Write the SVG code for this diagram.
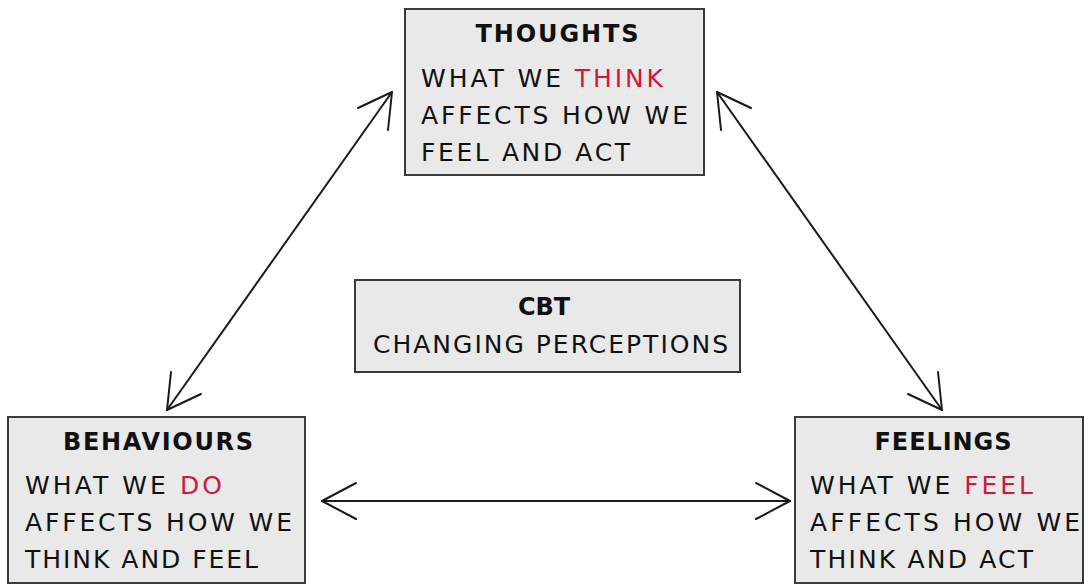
<svg xmlns="http://www.w3.org/2000/svg" width="1085" height="585" viewBox="0 0 1085 585">
<style>
.box{fill:#e9e9e9;stroke:#3a3a3a;stroke-width:2}
.t{font-family:"DejaVu Sans","Liberation Sans",Arial,sans-serif;font-size:24px;font-weight:bold;fill:#111;text-anchor:middle}
.b{font-family:"DejaVu Sans","Liberation Sans",Arial,sans-serif;font-size:25px;fill:#111}
.r{fill:#d4163c}
.c{fill:none;stroke:#1a1a1a;stroke-width:2;stroke-linecap:round;stroke-linejoin:round}
</style>
<rect width="1085" height="585" fill="#ffffff"/>
<g id="thoughts">
<rect class="box" x="405" y="9" width="299" height="166"/>
<text class="t" x="557" y="42" textLength="163" lengthAdjust="spacing">THOUGHTS</text>
<text class="b" x="421" y="87" textLength="242" lengthAdjust="spacing">WHAT WE <tspan class="r">THINK</tspan></text>
<text class="b" x="421" y="124" textLength="267" lengthAdjust="spacing">AFFECTS HOW WE</text>
<text class="b" x="421" y="161" textLength="209" lengthAdjust="spacing">FEEL AND ACT</text>
</g>
<g id="cbt">
<rect class="box" x="355" y="280" width="385" height="92"/>
<text class="t" x="544" y="315" textLength="52" lengthAdjust="spacing">CBT</text>
<text class="b" x="373" y="353" textLength="355" lengthAdjust="spacing">CHANGING PERCEPTIONS</text>
</g>
<g id="behaviours">
<rect class="box" x="8" y="417" width="297" height="166"/>
<text class="t" x="158" y="450" textLength="190" lengthAdjust="spacing">BEHAVIOURS</text>
<text class="b" x="25" y="494" textLength="197" lengthAdjust="spacing">WHAT WE <tspan class="r">DO</tspan></text>
<text class="b" x="25" y="531" textLength="267" lengthAdjust="spacing">AFFECTS HOW WE</text>
<text class="b" x="25" y="568" textLength="233" lengthAdjust="spacing">THINK AND FEEL</text>
</g>
<g id="feelings">
<rect class="box" x="795" y="417" width="288" height="166"/>
<text class="t" x="943" y="450" textLength="137" lengthAdjust="spacing">FEELINGS</text>
<text class="b" x="810" y="494" textLength="223" lengthAdjust="spacing">WHAT WE <tspan class="r">FEEL</tspan></text>
<text class="b" x="810" y="531" textLength="270" lengthAdjust="spacing">AFFECTS HOW WE</text>
<text class="b" x="810" y="568" textLength="223" lengthAdjust="spacing">THINK AND ACT</text>
</g>
<g id="connectors">
<path class="c" d="M392,92 L167,410"/>
<path class="c" d="M358,108 L392,92 L388,130"/>
<path class="c" d="M201,394 L167,410 L171,372"/>
<path class="c" d="M717,92 L942,410"/>
<path class="c" d="M751,108 L717,92 L721,130"/>
<path class="c" d="M908,394 L942,410 L938,372"/>
<path class="c" d="M322,501 L790,501"/>
<path class="c" d="M356,483 L322,501 L356,519"/>
<path class="c" d="M756,483 L790,501 L756,519"/>
</g>
</svg>
